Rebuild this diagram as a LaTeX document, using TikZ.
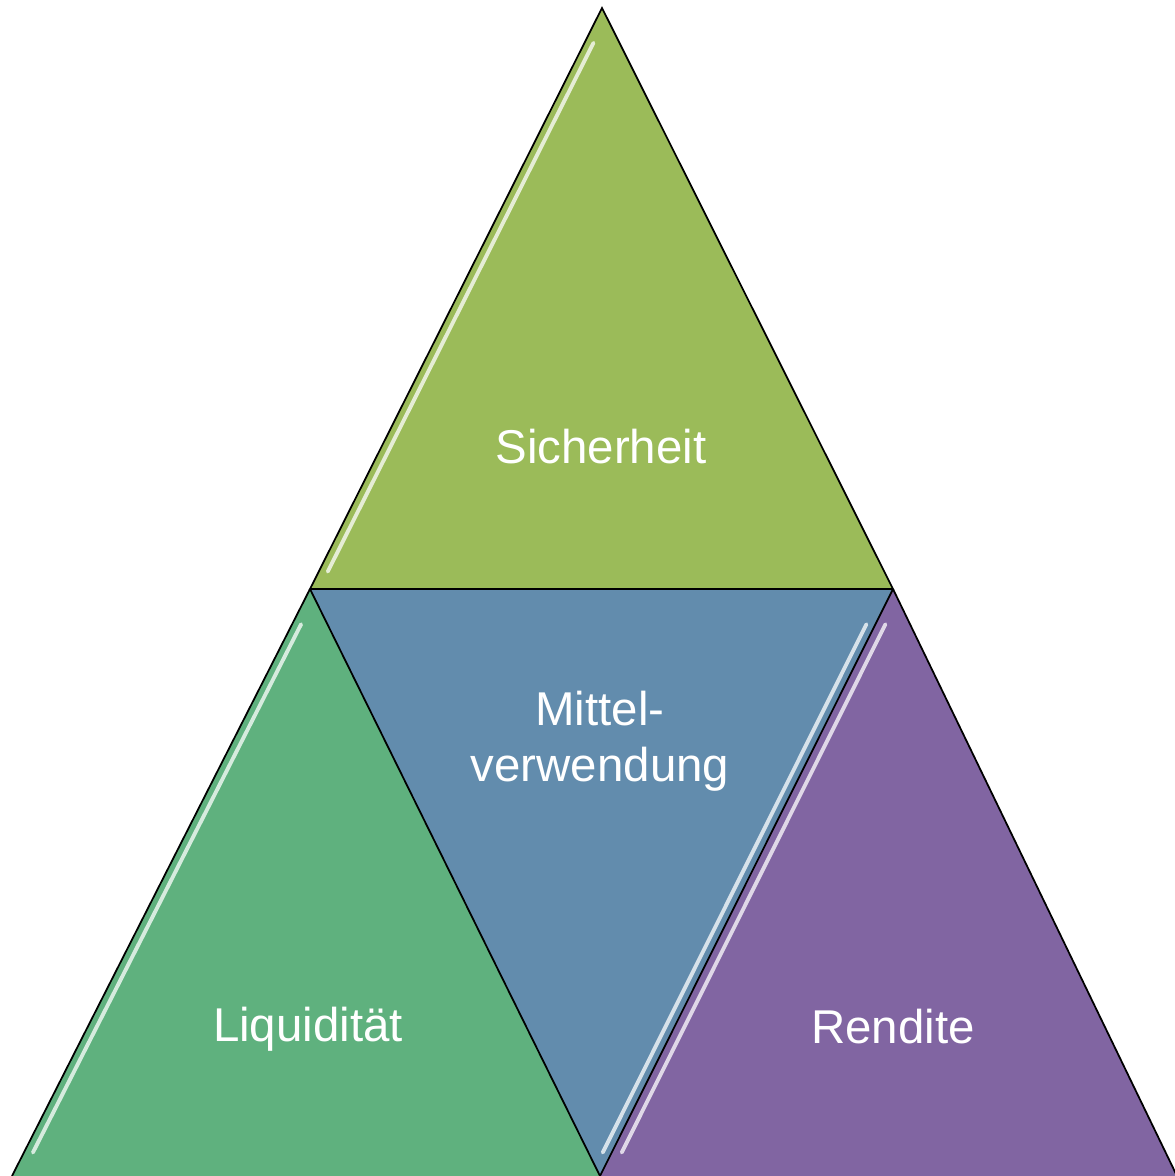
\documentclass[tikz,border=0pt]{standalone}
\usepackage{fontspec}
\setmainfont{Liberation Sans}
\usetikzlibrary{calc}
\definecolor{topgreen}{HTML}{9BBB59}
\definecolor{leftgreen}{HTML}{5FB17E}
\definecolor{midblue}{HTML}{628CAD}
\definecolor{rightviolet}{HTML}{8165A2}

\begin{document}
\begin{tikzpicture}[x=0.02cm, y=-0.02cm,
		seg/.style={draw=black, line width=1pt, line join=miter},
		shine/.style={white, line width=2.2pt, opacity=0.75, line cap=round},
		lbl/.style={text=white, font=\fontsize{27}{32}\selectfont, align=center}]
	\useasboundingbox (0,0) rectangle (1175,1176);
	% corner points
	\coordinate (apex) at (602,8);
	\coordinate (tl) at (310,589);
	\coordinate (tr) at (893,589);
	\coordinate (bl) at (12,1176);
	\coordinate (bm) at (600,1176);
	\coordinate (br) at (1177,1176);
	% the four parts
	\fill[topgreen] (apex) -- (tr) -- (tl) -- cycle;
	\fill[leftgreen] (tl) -- (bm) -- (bl) -- cycle;
	\fill[midblue] (tl) -- (tr) -- (bm) -- cycle;
	\fill[rightviolet] (tr) -- (br) -- (bm) -- cycle;
	% highlights
	\draw[shine] ($(apex)!0.06!(tl)+(9,0)$) -- ($(apex)!0.97!(tl)+(9,0)$);
	\draw[shine] ($(tl)!0.06!(bl)+(9,0)$) -- ($(tl)!0.96!(bl)+(9,0)$);
	\draw[shine] ($(tr)!0.06!(bm)+(-9,0)$) -- ($(tr)!0.96!(bm)+(-9,0)$);
	\draw[shine] ($(tr)!0.06!(bm)+(10,0)$) -- ($(tr)!0.96!(bm)+(10,0)$);
	% outlines
	\draw[seg] (apex) -- (tr) -- (tl) -- cycle;
	\draw[seg] (tl) -- (bm) -- (tr);
	\draw[seg] (tl) -- (bl);
	\draw[seg] (tr) -- (br);
	% labels
	\node[lbl] (safety) at (601,447) {Sicherheit};
	\node[lbl] (usage) at (600,741) {Mittel-\\verwendung};
	\node[lbl] (liquidity) at (308,1029) {Liquidität};
	\node[lbl] (yield) at (893,1027) {Rendite};
\end{tikzpicture}
\end{document}
